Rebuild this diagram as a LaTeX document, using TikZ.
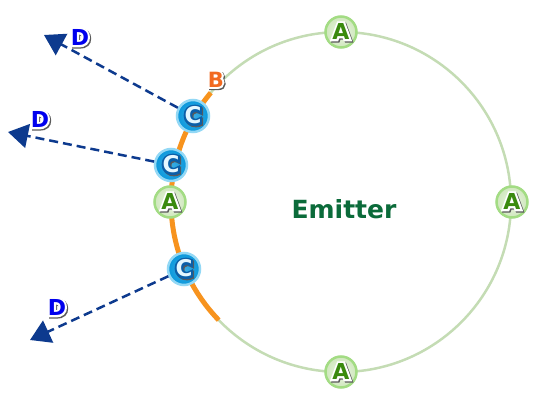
\documentclass[tikz,border=0pt]{standalone}
\usepackage{fontspec}
\setmainfont{DejaVu Sans}
\newfontfamily\letterface{DejaVu Sans Bold}
\newfontfamily\haloface[FakeBold=18]{DejaVu Sans Bold}
\usetikzlibrary{arrows.meta}
\definecolor{ringc}{HTML}{C4DCB4}
\definecolor{orangec}{HTML}{F7931E}
\definecolor{agreen}{HTML}{3A8A0E}
\definecolor{aborder}{HTML}{A3DC84}
\definecolor{afill}{HTML}{CFE7BC}
\definecolor{cblue}{HTML}{0A98DC}
\definecolor{cborder}{HTML}{93D8F5}
\definecolor{cdark}{HTML}{0B5FA8}
\definecolor{cletter}{HTML}{E4F7FF}
\definecolor{dblue}{HTML}{0000EE}
\definecolor{arrowc}{HTML}{0D3A8E}
\definecolor{emitc}{HTML}{0B6B3A}
\definecolor{borange}{HTML}{F26A21}
\definecolor{shadowc}{HTML}{5A5A5A}
% #1 text colour, #2 halo colour, #3 size, #4 text
\newcommand\halotxt[4]{{\fontsize{#3}{#3}%
\setbox0\hbox{\haloface #4}\setbox2\hbox{\letterface #4}%
\rlap{\color{shadowc}\kern1.2pt\lower1.2pt\copy0}%
\rlap{\color{#2}\copy0}%
{\color{#1}\box2}}}
\tikzset{
  ring/.style={draw=ringc, line width=2.5pt},
  hot/.style={draw=orangec, line width=5pt},
  anode/.style={circle, minimum size=31pt, inner sep=0pt, draw=aborder, line width=2.5pt,
    inner color=white!60!afill, outer color=afill},
  cnode/.style={circle, minimum size=32pt, inner sep=0pt, draw=cborder, line width=2.5pt,
    inner color=cblue!80!white, outer color=cblue},
  plainlabel/.style={inner sep=0pt},
  beam/.style={draw=arrowc, line width=2.5pt, dash pattern=on 9pt off 5pt,
    -{Triangle[length=20pt,width=24pt]}},
}
\begin{document}
\begin{tikzpicture}[x=1pt,y=1pt]
\useasboundingbox (0,0) rectangle (533,400);
\coordinate (O) at (341,198);
\draw[ring] (O) circle[radius=170pt];
\draw[hot] (O) ++(140:170pt) arc[start angle=140, end angle=224, radius=170pt];
\node[inner sep=0pt, text=emitc, font=\fontsize{25}{25}\bfseries, anchor=base] (emit) at (344,182) {Emitter};
\node[anode] (a1) at (341,368) {\halotxt{agreen}{white}{22}{A}};
\node[anode] (a2) at (512,198) {\halotxt{agreen}{white}{22}{A}};
\node[anode] (a3) at (341,28) {\halotxt{agreen}{white}{22}{A}};
\node[anode] (a4) at (170,198) {\halotxt{agreen}{white}{22}{A}};
\node[cnode] (c1) at (193,284) {\halotxt{cletter}{cdark}{23}{C}};
\node[cnode] (c2) at (171,235) {\halotxt{cletter}{cdark}{23}{C}};
\node[cnode] (c3) at (184,131) {\halotxt{cletter}{cdark}{23}{C}};
\node[plainlabel] (b) at (216,320) {\halotxt{borange}{white}{21}{B}};
\node[plainlabel] (d1) at (80,362) {\halotxt{dblue}{white}{22}{D}};
\node[plainlabel] (d2) at (40,280) {\halotxt{dblue}{white}{22}{D}};
\node[plainlabel] (d3) at (57,92) {\halotxt{dblue}{white}{22}{D}};
\coordinate (t1) at (44,365);
\coordinate (t2) at (8,268);
\coordinate (t3) at (30,60);
\draw[beam] (c1) -- (t1);
\draw[beam] (c2) -- (t2);
\draw[beam] (c3) -- (t3);
\end{tikzpicture}
\end{document}
